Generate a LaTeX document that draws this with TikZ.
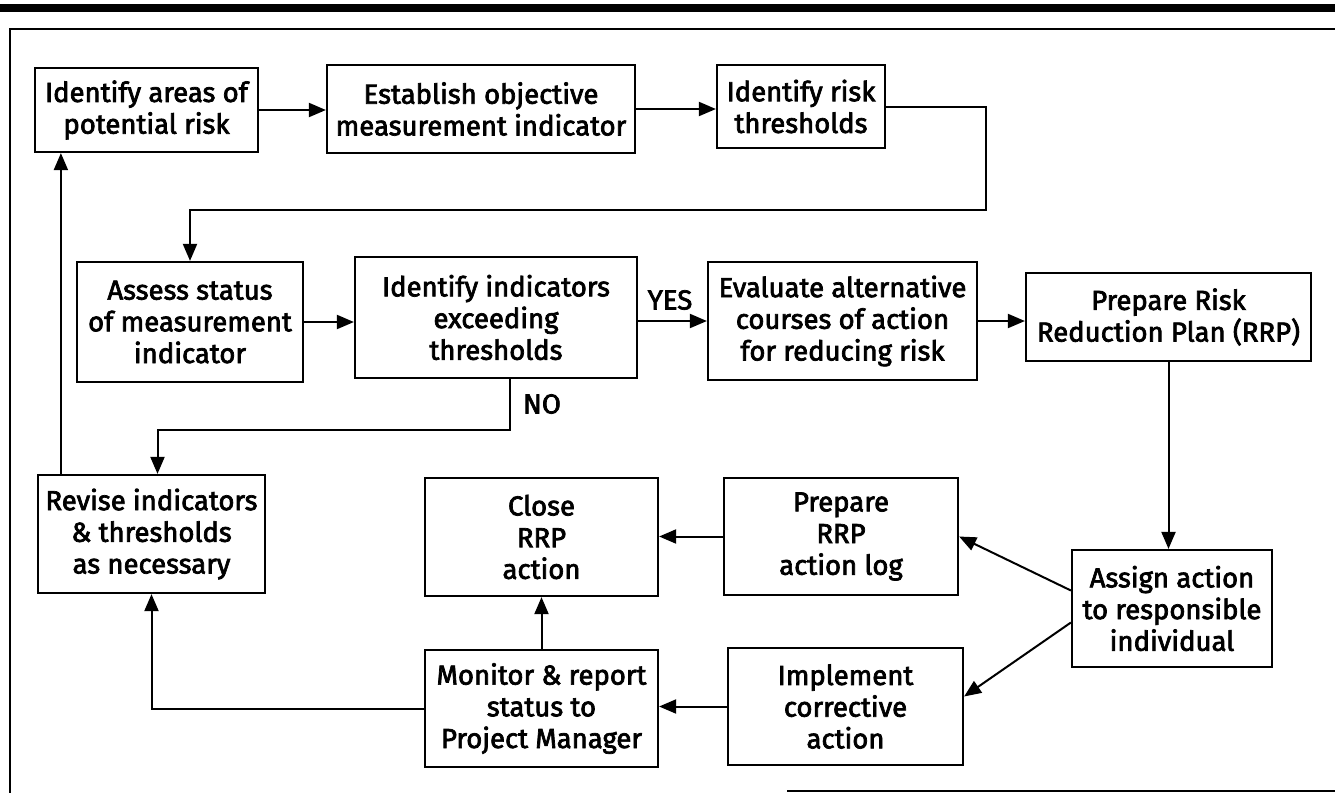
\documentclass[tikz,border=0pt]{standalone}
\usepackage{fontspec}
\setmainfont{Fira Sans}[RawFeature={embolden=2.6}]
\usetikzlibrary{arrows.meta,calc}
\begin{document}
\begin{tikzpicture}[x=1pt,y=-1pt,
  box/.style={draw, line width=2.2pt, align=center, inner sep=0pt, font=\fontsize{27.5}{31.7}\selectfont},
  arr/.style={line width=2pt, -{Triangle[length=17pt,width=14pt]}},
  lbl/.style={font=\fontsize{27.5}{31.7}\selectfont, inner sep=0pt}]
\useasboundingbox (0,0) rectangle (1335,793);
% frame
\fill (0,4) rectangle (1335,12);
\draw[line width=1.8pt] (1335,29) -- (10,29) -- (10,793);
\draw[line width=1.8pt] (787,791) -- (1335,791);
% nodes
\node[box, minimum width=223pt, minimum height=84pt] (A) at (146.5,110) {Identify areas of\\potential risk};
\node[box, minimum width=308pt, minimum height=88pt] (B) at (481,109) {Establish objective\\measurement indicator};
\node[box, minimum width=168pt, minimum height=83pt] (C) at (801,106.5) {Identify risk\\thresholds};
\node[box, minimum width=226pt, minimum height=120pt] (D) at (190,322) {Assess status\\of measurement\\indicator};
\node[box, minimum width=282pt, minimum height=121pt] (E) at (496,317.5) {Identify indicators\\exceeding\\thresholds};
\node[box, minimum width=269pt, minimum height=118pt] (F) at (842.5,321) {Evaluate alternative\\courses of action\\for reducing risk};
\node[box, minimum width=285pt, minimum height=88pt] (G) at (1168.5,317) {Prepare Risk\\Reduction Plan (RRP)};
\node[box, minimum width=227pt, minimum height=118pt] (H) at (151.5,534) {Revise indicators\\\& thresholds\\as necessary};
\node[box, minimum width=233pt, minimum height=118pt] (I) at (541.5,537) {Close\\RRP\\action};
\node[box, minimum width=234pt, minimum height=117pt] (J) at (841,536.5) {Prepare\\RRP\\action log};
\node[box, minimum width=200pt, minimum height=117pt] (K) at (1172,608.5) {Assign action\\to responsible\\individual};
\node[box, minimum width=233pt, minimum height=117pt] (L) at (541.5,708.5) {Monitor \& report\\status to\\Project Manager};
\node[box, minimum width=235pt, minimum height=117pt] (M) at (845.5,706.5) {Implement\\corrective\\action};
% labels
\node[lbl] (yes) at (670,300) {YES};
\node[lbl] (no) at (542,404) {NO};
% helper coordinates
\coordinate (cd) at (986,210);
\coordinate (en) at (510,430);
% connectors
\draw[arr] (A.east) -- (A.east -| B.west);
\draw[arr] (B.east) -- (B.east -| C.west);
\draw[arr] (C.east) -| (cd) -| (D.north);
\draw[arr] (D.east) -- (D.east -| E.west);
\draw[arr] (F.west -| E.east) -- (F.west);
\draw[arr] (F.east) -- (F.east -| G.west);
\draw[arr] (en |- E.south) -- (en) -| ([xshift=6pt]H.north);
\draw[arr] (G.south) -- (G.south |- K.north);
\draw[arr] ($(K.west)+(0,-18)$) -- (J.east);
\draw[arr] ($(K.west)+(0,14)$) -- ($(M.east)+(0,-10)$);
\draw[arr] (J.west) -- (J.west -| I.east);
\draw[arr] (M.west) -- (M.west -| L.east);
\draw[arr] (L.north) -- (L.north |- I.south);
\draw[arr] (L.west) -| (H.south);
\draw[arr] ($(H.north west)+(24,0)$) -- ($(A.south west)+(27,0)$);
\end{tikzpicture}
\end{document}
